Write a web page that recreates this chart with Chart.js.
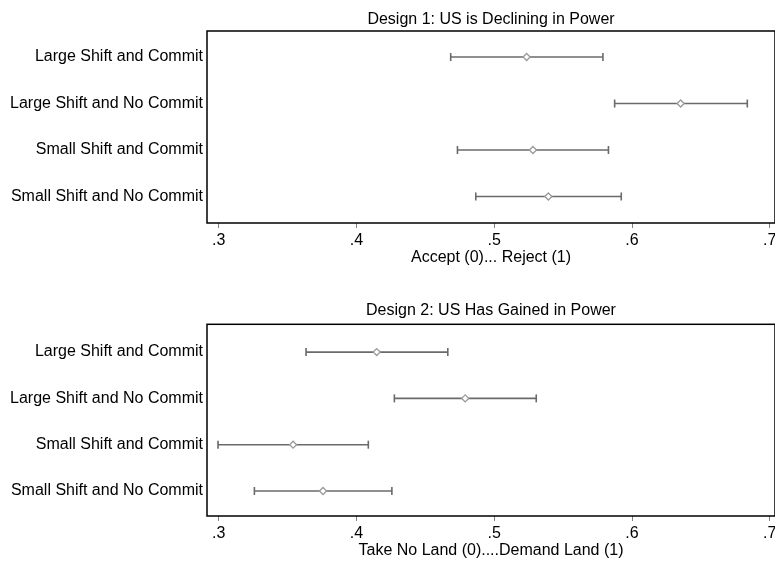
<!DOCTYPE html>
<html>
<head>
<meta charset="utf-8">
<script src="https://cdn.jsdelivr.net/npm/chart.js@4.4.1/dist/chart.umd.min.js"></script>
<style>
  html, body { margin: 0; padding: 0; background: #fff; }
  body { width: 775px; height: 565px; position: relative; overflow: hidden; }
  canvas { position: absolute; left: 0; }
</style>
</head>
<body>
<canvas id="design1" width="775" height="290" style="top:0px"></canvas>
<canvas id="design2" width="775" height="275" style="top:290px"></canvas>
<script>
const categories = ['Large Shift and Commit', 'Large Shift and No Commit', 'Small Shift and Commit', 'Small Shift and No Commit'];
const xTicks = [0.3, 0.4, 0.5, 0.6, 0.7];

const design1Mean = [0.5235, 0.6353, 0.5281, 0.5393];
const design1Low = [0.4684, 0.5874, 0.4733, 0.4866];
const design1High = [0.5789, 0.6837, 0.5829, 0.5922];

const design2Mean = [0.4147, 0.4789, 0.3540, 0.3757];
const design2Low = [0.3634, 0.4275, 0.2995, 0.3259];
const design2High = [0.4663, 0.5305, 0.4086, 0.4257];

Chart.defaults.font.family = '"Liberation Sans", Arial, sans-serif';
Chart.defaults.font.size = 16;
Chart.defaults.color = '#000';

// box around the plot region, like Stata draws it
const framePlugin = {
  id: 'frame',
  afterDatasetsDraw(chart) {
    const { ctx, chartArea: a } = chart;
    ctx.save();
    ctx.strokeStyle = '#000';
    ctx.lineWidth = 1.5;
    ctx.strokeRect(a.left, a.top, a.right - a.left, a.bottom - a.top);
    ctx.restore();
  }
};

function makePanel(id, title, xTitle, mean, low, high, lay) {
  const datasets = [{
    type: 'scatter',
    data: mean.map((v, i) => ({ x: v, y: i + 1 })),
    pointStyle: 'rectRot',
    pointRadius: 3.5,
    backgroundColor: '#fff',
    borderColor: '#9a9a9a',
    borderWidth: 1.3,
    clip: false
  }];
  categories.forEach((c, i) => {
    datasets.push({
      type: 'line',
      data: [{ x: low[i], y: i + 1 }, { x: high[i], y: i + 1 }],
      borderColor: '#6a6a6a',
      borderWidth: 1.6,
      pointStyle: 'line',
      rotation: 90,
      pointRadius: 4,
      pointBorderColor: '#6a6a6a',
      pointBorderWidth: 1.6,
      clip: false
    });
  });

  return new Chart(document.getElementById(id), {
    type: 'scatter',
    data: { datasets },
    options: {
      responsive: false,
      animation: false,
      devicePixelRatio: 1,
      layout: { padding: 0, autoPadding: false },
      plugins: {
        legend: { display: false },
        tooltip: { enabled: false },
        title: {
          display: true,
          fullSize: false,
          text: title,
          font: { size: 16, weight: 'normal' },
          color: '#000',
          padding: { top: lay.titleTop, bottom: lay.titleBottom }
        }
      },
      scales: {
        x: {
          type: 'linear',
          min: 0.2915,
          max: 0.7038,
          afterBuildTicks: s => { s.ticks = xTicks.map(v => ({ value: v })); },
          afterFit: s => { s.height = lay.xHeight; s.paddingLeft = 0; s.paddingRight = 0; },
          ticks: {
            padding: 3,
            maxRotation: 0,
            autoSkip: false,
            callback: v => v.toFixed(1).replace(/^0/, '')
          },
          grid: { drawOnChartArea: false, drawTicks: true, tickLength: 5, color: '#808080' },
          border: { display: false },
          title: {
            display: true,
            text: xTitle,
            font: { size: 16 },
            padding: { top: 0, bottom: lay.xTitleBottom }
          }
        },
        y: {
          type: 'linear',
          reverse: true,
          min: lay.yMin,
          max: lay.yMax,
          afterBuildTicks: s => { s.ticks = categories.map((c, i) => ({ value: i + 1 })); },
          afterFit: s => { s.width = 207; s.paddingTop = 0; s.paddingBottom = 0; },
          ticks: {
            padding: 4,
            autoSkip: false,
            callback: v => categories[v - 1]
          },
          grid: { display: false, drawTicks: false, tickLength: 0 },
          border: { display: false }
        }
      }
    },
    plugins: [framePlugin]
  });
}

makePanel('design1', 'Design 1: US is Declining in Power', 'Accept (0)... Reject (1)',
  design1Mean, design1Low, design1High,
  { titleTop: 10.4, titleBottom: 1.4, xHeight: 67, xTitleBottom: 22.4, yMin: 0.44, yMax: 4.57 });

makePanel('design2', 'Design 2: US Has Gained in Power', 'Take No Land (0)....Demand Land (1)',
  design2Mean, design2Low, design2High,
  { titleTop: 11.4, titleBottom: 3.7, xHeight: 49, xTitleBottom: 4.4, yMin: 0.40, yMax: 4.54 });
</script>
</body>
</html>
